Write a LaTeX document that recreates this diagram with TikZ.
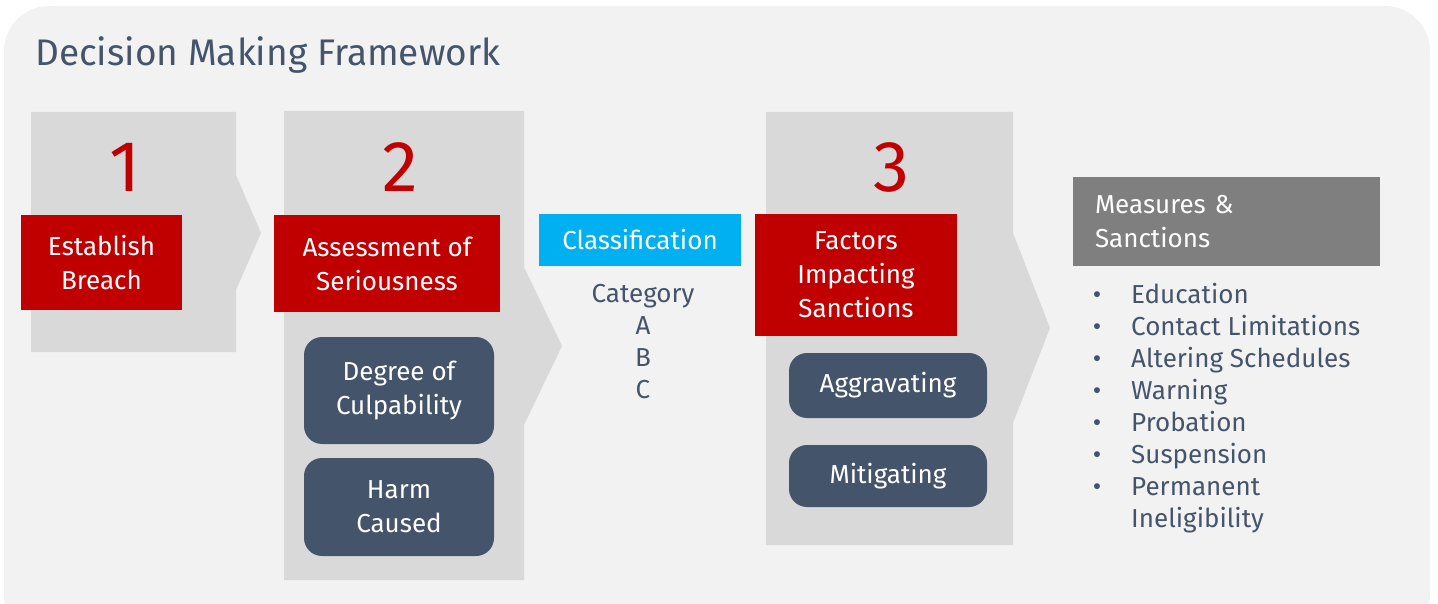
\documentclass[tikz,border=0pt]{standalone}
\usepackage{fontspec}
\setmainfont{Fira Sans}
\usetikzlibrary{positioning}

\definecolor{panelgray}{HTML}{F2F2F2}
\definecolor{arrowgray}{HTML}{D9D9D9}
\definecolor{stepred}{HTML}{C00000}
\definecolor{slate}{HTML}{44546A}
\definecolor{skyblue}{HTML}{00B0F0}
\definecolor{midgray}{HTML}{7F7F7F}

\newcommand{\boxfont}{\fontsize{26}{34}\selectfont}
\newcommand{\listfont}{\fontsize{26}{32}\selectfont}

\tikzset{
  redbox/.style={fill=stepred, text=white, align=center, inner sep=0pt, font=\boxfont},
  factorbox/.style={fill=slate, text=white, align=center, inner sep=0pt, rounded corners=18, font=\boxfont},
  stepnum/.style={text=stepred, inner sep=0pt, font=\fontsize{72}{72}\selectfont},
  listtext/.style={text=slate, inner sep=0pt, anchor=base west, font=\listfont}
}

\begin{document}
\begin{tikzpicture}[x=1pt,y=-1pt]
\useasboundingbox (0,0) rectangle (1438,604);
% panel
\fill[panelgray, rounded corners=45] (4,6) rectangle (1430,640);
\node[anchor=base west, text=slate, inner sep=0pt, font=\fontsize{37}{40}\selectfont] (title) at (35,66) {Decision Making Framework};

% step arrows
\fill[arrowgray] (31,112) -- (236,112) -- (236,175) -- (261,233) -- (236,290) -- (236,352) -- (31,352) -- cycle;
\fill[arrowgray] (284,111) -- (524,111) -- (524,267) -- (562,346) -- (524,425) -- (524,580) -- (284,580) -- cycle;
\fill[arrowgray] (766,112) -- (1013,112) -- (1013,233) -- (1050,328) -- (1013,423) -- (1013,545) -- (766,545) -- cycle;

% step 1
\node[stepnum] (num1) at (125,167) {1};
\node[redbox, minimum width=161, minimum height=95] (breach) at (101.5,262.5) {Establish\\Breach};

% step 2
\node[stepnum] (num2) at (400,167) {2};
\node[redbox, minimum width=226, minimum height=97] (serious) at (387,263.5) {Assessment of\\Seriousness};
\node[factorbox, minimum width=190, minimum height=107] (culpa) at (399,390.5) {Degree of\\Culpability};
\node[factorbox, minimum width=190, minimum height=98] (harm) at (399,507) {Harm\\Caused};

% classification
\node[fill=skyblue, text=white, inner sep=0pt, minimum width=202, minimum height=52, font=\boxfont] (classif) at (640,240) {Classification};
\foreach \t [count=\i from 0] in {Category,A,B,C}
  \node[text=slate, inner sep=0pt, anchor=base, font=\listfont] (cat\i) at (643,302+32*\i) {\t};

% step 3
\node[stepnum] (num3) at (891,167) {3};
\node[redbox, minimum width=202, minimum height=122] (factors) at (856,275) {Factors\\Impacting\\Sanctions};
\node[factorbox, minimum width=198, minimum height=65] (aggr) at (888,385.5) {Aggravating};
\node[factorbox, minimum width=198, minimum height=62] (mitig) at (888,476) {Mitigating};

% measures
\node[fill=midgray, text=white, align=left, inner xsep=22pt, inner ysep=0pt, text width=263, minimum height=89, font=\boxfont] (measures) at (1226.5,221.5) {Measures \&\\Sanctions};
\foreach \t [count=\i from 0] in {Education,Contact Limitations,Altering Schedules,Warning,Probation,Suspension,Permanent}
{
  \node[listtext, anchor=base] (dot\i) at (1097,303+32*\i) {\textbullet};
  \node[listtext] (item\i) at (1131,303+32*\i) {\t};
}
\node[listtext] (item7) at (1131,303+32*7) {Ineligibility};

\end{tikzpicture}
\end{document}
